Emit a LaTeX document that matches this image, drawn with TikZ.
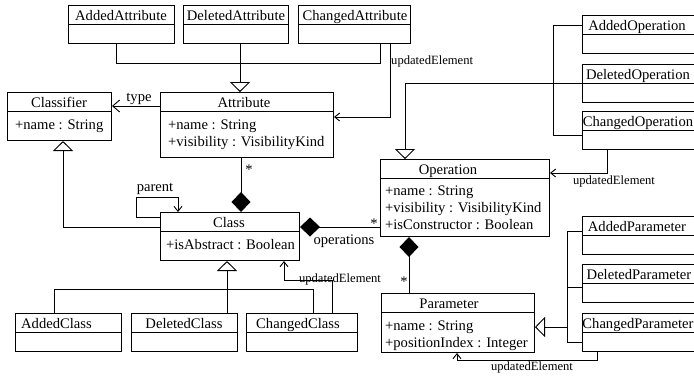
\documentclass[tikz,border=0pt]{standalone}
\usepackage{fontspec}
\setmainfont{Liberation Serif}
\usetikzlibrary{arrows.meta,calc}

% one UML class box: name, left x, top y, width, height; header rule 19pt below the top
\newcommand{\umlclass}[5]{%
  \node[umlbox, minimum width=#4pt, minimum height=#5pt] (#1) at (#2,#3) {};
  \draw[line width=1pt] ($(#1.north west)+(0,19)$) -- ($(#1.north east)+(0,19)$);
}

\begin{document}
\begin{tikzpicture}[x=1pt,y=-1pt,
  umlbox/.style={draw, line width=1pt, inner sep=0pt, anchor=north west},
  title/.style={anchor=base, inner sep=0pt, font=\fontsize{14.6}{17}\selectfont},
  titlew/.style={anchor=base west, inner sep=0pt, font=\fontsize{14.6}{17}\selectfont},
  attrtext/.style={anchor=base west, inner sep=0pt, font=\fontsize{14.6}{17}\selectfont},
  rolelbl/.style={anchor=base, inner sep=0pt, font=\fontsize{14.6}{17}\selectfont},
  smalllbl/.style={anchor=base, inner sep=0pt, font=\fontsize{12.6}{15}\selectfont},
  conn/.style={draw, line width=0.9pt},
  gen/.style={conn, -{Triangle[open, length=10pt, width=20pt, line width=0.9pt]}},
  comp/.style={conn, -{Diamond[length=20pt, width=19pt]}},
  compstart/.style={conn, {Diamond[length=20pt, width=19pt]}-},
  nav/.style={conn, -{Straight Barb[length=5pt, width=8pt]}},
]
\path[use as bounding box] (0,0) rectangle (694,376);
\clip (0,0) rectangle (694,376);

% ---------- attribute changes ----------
\umlclass{addattr}{68}{5}{106}{38}
\umlclass{delattr}{183}{5}{105}{38}
\umlclass{chgattr}{298}{5}{112}{38}
\node[title] (addattr-t) at (121,20) {AddedAttribute};
\node[title] (delattr-t) at (236,20) {DeletedAttribute};
\node[title] (chgattr-t) at (355,20) {ChangedAttribute};

% ---------- core classes ----------
\umlclass{classifier}{7}{92}{104}{48}
\node[title] (classifier-t) at (59,107) {Classifier};
\node[attrtext] (classifier-a1) at (15,129) {+name : String};

\umlclass{attribute}{160}{92}{173}{65}
\node[title] (attribute-t) at (244,107) {Attribute};
\node[attrtext] (attribute-a1) at (168,129) {+name : String};
\node[attrtext] (attribute-a2) at (168,146) {+visibility : VisibilityKind};

\umlclass{class}{160}{212}{139}{48}
\node[title] (class-t) at (229,227) {Class};
\node[attrtext] (class-a1) at (166,249) {+isAbstract : Boolean};

\umlclass{operation}{380}{159}{169}{77}
\node[title] (operation-t) at (448,174) {Operation};
\node[attrtext] (operation-a1) at (385,195) {+name : String};
\node[attrtext] (operation-a2) at (385,212) {+visibility : VisibilityKind};
\node[attrtext] (operation-a3) at (385,229) {+isConstructor : Boolean};

\umlclass{parameter}{381}{293}{153}{59}
\node[title] (parameter-t) at (449,308) {Parameter};
\node[attrtext] (parameter-a1) at (385,330) {+name : String};
\node[attrtext] (parameter-a2) at (385,347) {+positionIndex : Integer};

% ---------- class changes ----------
\umlclass{addcls}{15}{313}{106}{38}
\umlclass{delcls}{131}{313}{106}{38}
\umlclass{chgcls}{246}{313}{111}{38}
\node[titlew] (addcls-t) at (21,328) {AddedClass};
\node[title] (delcls-t) at (184,328) {DeletedClass};
\node[title] (chgcls-t) at (298,328) {ChangedClass};

% ---------- operation changes ----------
\umlclass{addop}{582}{15}{130}{38}
\umlclass{delop}{582}{64}{130}{38}
\umlclass{chgop}{582}{111}{130}{38}
\node[title] (addop-t) at (637,30) {AddedOperation};
\node[title] (delop-t) at (638,79) {DeletedOperation};
\node[title] (chgop-t) at (638,126) {ChangedOperation};

% ---------- parameter changes ----------
\umlclass{addpar}{582}{216}{130}{38}
\umlclass{delpar}{582}{264}{130}{38}
\umlclass{chgpar}{582}{313}{130}{38}
\node[title] (addpar-t) at (637,231) {AddedParameter};
\node[title] (delpar-t) at (639,279) {DeletedParameter};
\node[title] (chgpar-t) at (638,328) {ChangedParameter};

% ---------- bend points ----------
\coordinate (aa) at (116,63);
\coordinate (ac) at (380,63);
\coordinate (ajoin) at (240,63);
\coordinate (au) at (390,117);
\coordinate (ty) at (0,106);
\coordinate (cg) at (63,227);
\coordinate (p1) at (136,217);
\coordinate (p2) at (136,197);
\coordinate (p3) at (178,197);
\coordinate (ca) at (241,0);
\coordinate (co) at (0,227);
\coordinate (op) at (409,0);
\coordinate (og) at (405,83);
\coordinate (ob1) at (553,25);
\coordinate (ob2) at (553,135);
\coordinate (ou) at (607,173);
\coordinate (pb1) at (567,231);
\coordinate (pb2) at (567,342);
\coordinate (pd) at (567,287);
\coordinate (pg) at (567,327);
\coordinate (pu1) at (597,360);
\coordinate (pu2) at (457,360);
\coordinate (cb1) at (54,289);
\coordinate (cb2) at (313,289);
\coordinate (cb3) at (227,289);
\coordinate (cu1) at (332,280);
\coordinate (cu2) at (284,280);

% ---------- generalizations ----------
\draw[conn] (addattr.south -| aa) -- (aa) -- (ac) -- (chgattr.south -| ac);
\draw[gen] (delattr.south -| ajoin) -- (attribute.north -| ajoin);

\draw[gen] (class.west |- cg) -- (cg) -- (classifier.south -| cg);

\draw[conn] (addop.west |- ob1) -- (ob1) -- (ob2) -- (chgop.west |- ob2);
\draw[gen] (delop.west |- og) -- (og) -- (operation.north -| og);

\draw[conn] (addpar.west |- pb1) -- (pb1) -- (pb2) -- (chgpar.west |- pb2);
\draw[conn] (delpar.west |- pd) -- (pd);
\draw[gen] (pg) -- (parameter.east |- pg);

\draw[conn] (addcls.north -| cb1) -- (cb1) -- (cb2) -- (chgcls.north -| cb2);
\draw[gen] (delcls.north -| cb3) -- (class.south -| cb3);

% ---------- compositions ----------
\draw[comp] (attribute.south -| ca) -- (class.north -| ca);
\node[rolelbl] (star-attr) at (249,174) {*};

\draw[compstart] (class.east |- co) -- (operation.west |- co);
\node[rolelbl] (star-op) at (374,228) {*};
\node[rolelbl] (lbl-ops) at (344,244) {operations};

\draw[compstart] (operation.south -| op) -- (parameter.north -| op);
\node[rolelbl] (star-par) at (404,286) {*};

% ---------- associations ----------
\draw[conn, -{Straight Barb[length=7pt, width=12pt]}] (attribute.west |- ty) -- (classifier.east |- ty);
\node[rolelbl] (lbl-type) at (139,101) {type};

\draw[nav] (class.west |- p1) -- (p1) -- (p2) -- (p3) -- (class.north -| p3);
\node[rolelbl] (lbl-parent) at (155,191) {parent};

\draw[nav] (chgattr.south -| au) -- (au) -- (attribute.east |- au);
\node[smalllbl, anchor=base west] (lbl-au) at (391,64) {updatedElement};

\draw[nav] (chgop.south -| ou) -- (ou) -- (operation.east |- ou);
\node[smalllbl] (lbl-ou) at (614,184) {updatedElement};

\draw[nav] (chgpar.south -| pu1) -- (pu1) -- (pu2) -- (parameter.south -| pu2);
\node[smalllbl] (lbl-pu) at (532,370) {updatedElement};

\draw[nav] (chgcls.north -| cu1) -- (cu1) -- (cu2) -- (class.south -| cu2);
\node[smalllbl] (lbl-cu) at (340,282) {updatedElement};
\end{tikzpicture}
\end{document}
